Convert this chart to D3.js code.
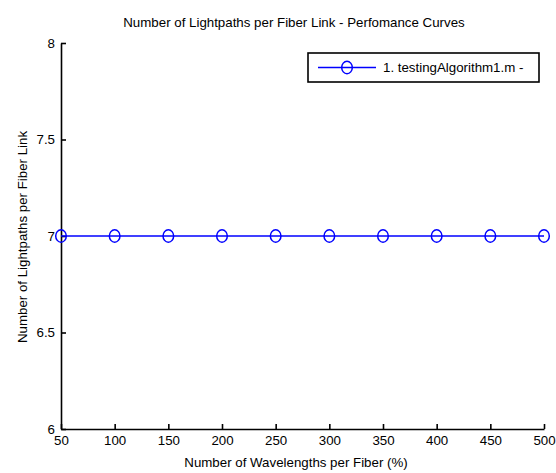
<!DOCTYPE html>
<html>
<head>
<meta charset="utf-8">
<script src="https://cdn.jsdelivr.net/npm/d3@7"></script>
<style>
body { margin: 0; background: #fff; }
text { font-family: "Liberation Sans", Arial, sans-serif; fill: #000; }
</style>
</head>
<body>
<div id="chart"></div>
<script>
const wavelengths = [50, 100, 150, 200, 250, 300, 350, 400, 450, 500];
const lightpaths = [7, 7, 7, 7, 7, 7, 7, 7, 7, 7];
const xTicks = [50, 100, 150, 200, 250, 300, 350, 400, 450, 500];
const yTicks = [6, 6.5, 7, 7.5, 8];
const seriesName = "1. testingAlgorithm1.m -";

const width = 556, height = 473;
const margin = { top: 43, right: 12, bottom: 44, left: 61 };
const fontSize = '13.3px';

const svg = d3.select('#chart').append('svg')
    .attr('width', width).attr('height', height);

const xScale = d3.scaleLinear().domain([50, 500]).range([margin.left, width - margin.right]);
const yScale = d3.scaleLinear().domain([6, 8]).range([height - margin.bottom, margin.top]);

// axes, ticks inward like matlab
const xAxis = d3.axisBottom(xScale).tickValues(xTicks).tickSizeInner(-5).tickSizeOuter(0).tickPadding(7);
const yAxis = d3.axisLeft(yScale).tickValues(yTicks).tickSizeInner(-5).tickSizeOuter(0).tickPadding(6)
    .tickFormat(d => String(d));

const gx = svg.append('g')
    .attr('transform', `translate(0,${height - margin.bottom})`)
    .call(xAxis);
const gy = svg.append('g')
    .attr('transform', `translate(${margin.left},0)`)
    .call(yAxis);

[gx, gy].forEach(g => {
    g.selectAll('path, line').attr('stroke', '#000').attr('stroke-width', 1.6);
    g.selectAll('text').style('font-size', fontSize).attr('fill', '#000');
});
gy.selectAll('text').attr('dy', '0.32em');

// line + markers
const pts = wavelengths.map((w, i) => [w, lightpaths[i]]);
svg.append('path')
    .datum(pts)
    .attr('fill', 'none')
    .attr('stroke', '#0000ff')
    .attr('stroke-width', 1.6)
    .attr('d', d3.line().x(d => xScale(d[0])).y(d => yScale(d[1])));

svg.selectAll('ellipse.pt')
    .data(pts)
    .join('ellipse')
    .attr('class', 'pt')
    .attr('cx', d => xScale(d[0]))
    .attr('cy', d => yScale(d[1]))
    .attr('rx', 5.3)
    .attr('ry', 6.2)
    .attr('fill', 'none')
    .attr('stroke', '#0000ff')
    .attr('stroke-width', 1.5);

// title and labels
svg.append('text')
    .attr('x', 294)
    .attr('y', 27)
    .attr('text-anchor', 'middle')
    .style('font-size', fontSize)
    .text('Number of Lightpaths per Fiber Link - Perfomance Curves');

svg.append('text')
    .attr('x', 296)
    .attr('y', 467)
    .attr('text-anchor', 'middle')
    .style('font-size', fontSize)
    .text('Number of Wavelengths per Fiber (%)');

svg.append('text')
    .attr('transform', `translate(22,237) rotate(-90)`)
    .attr('text-anchor', 'middle')
    .attr('dy', '0.35em')
    .style('font-size', fontSize)
    .text('Number of Lightpaths per Fiber Link');

// legend
const legend = svg.append('g').attr('transform', 'translate(308,53)');
legend.append('rect')
    .attr('width', 231).attr('height', 29)
    .attr('fill', '#fff').attr('stroke', '#000').attr('stroke-width', 1.6);
legend.append('line')
    .attr('x1', 10).attr('x2', 68).attr('y1', 14.5).attr('y2', 14.5)
    .attr('stroke', '#0000ff').attr('stroke-width', 1.6);
legend.append('ellipse')
    .attr('cx', 39).attr('cy', 14.5).attr('rx', 5.3).attr('ry', 6.2)
    .attr('fill', 'none').attr('stroke', '#0000ff').attr('stroke-width', 1.5);
legend.append('text')
    .attr('x', 75).attr('y', 14.5).attr('dy', '0.35em')
    .style('font-size', fontSize)
    .text(seriesName);
</script>
</body>
</html>
